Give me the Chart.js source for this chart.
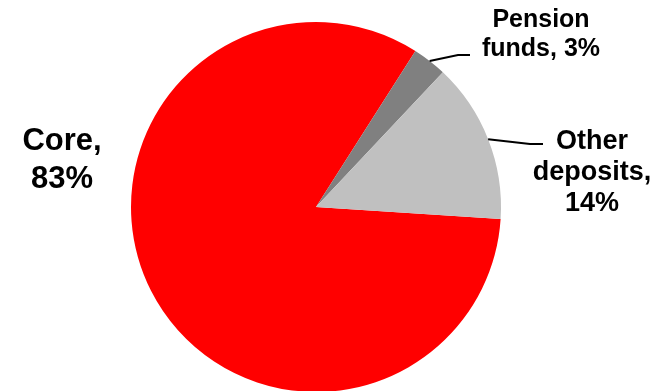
<!DOCTYPE html>
<html>
<head>
    <meta charset="UTF-8">
    <title>Deposits</title>
    <script src="https://cdn.jsdelivr.net/npm/chart.js@4/dist/chart.umd.min.js"></script>
</head>
<style>
    html, body { margin: 0; padding: 0; background: #fff; overflow: hidden; }
    canvas { display: block; }
</style>
<body>
    <canvas id="chart" width="663" height="400"></canvas>

    <script>
        // slice data
        var labels = ['Core', 'Pension funds', 'Other deposits'];
        var shares = [83, 3, 14];
        var colors = ['#ff0000', '#808080', '#c0c0c0'];

        // label text per slice (lines), font size, where the text sits and leader elbow
        var labelLines = [['Core,', '83%'], ['Pension', 'funds, 3%'], ['Other', 'deposits,', '14%']];
        var labelSize = [31, 25, 27];
        var labelPos = [[62, 150], [541, 27], [592, 149]];
        var lineGap = [38, 29, 31];
        var leader = [null, [[458, 55], [470, 55]], [[530, 144], [543, 144]]];

        var sliceLabels = {
            id: 'sliceLabels',
            afterDatasetsDraw: function (chart) {
                var ctx = chart.ctx;
                var arcs = chart.getDatasetMeta(0).data;
                ctx.save();
                arcs.forEach(function (arc, i) {
                    var mid = (arc.startAngle + arc.endAngle) / 2;
                    if (leader[i]) {
                        ctx.beginPath();
                        ctx.moveTo(arc.x + Math.cos(mid) * arc.outerRadius, arc.y + Math.sin(mid) * arc.outerRadius);
                        leader[i].forEach(function (p) { ctx.lineTo(p[0], p[1]); });
                        ctx.strokeStyle = '#000';
                        ctx.lineWidth = 2;
                        ctx.stroke();
                    }
                    ctx.fillStyle = '#000';
                    ctx.font = 'bold ' + labelSize[i] + 'px "Liberation Sans", Arial, sans-serif';
                    ctx.textAlign = 'center';
                    ctx.textBaseline = 'alphabetic';
                    labelLines[i].forEach(function (t, k) {
                        ctx.fillText(t, labelPos[i][0], labelPos[i][1] + k * lineGap[i]);
                    });
                });
                ctx.restore();
            }
        };

        new Chart(document.getElementById('chart'), {
            type: 'pie',
            data: {
                labels: labels,
                datasets: [{
                    data: shares,
                    backgroundColor: colors,
                    borderWidth: 0,
                    hoverOffset: 0
                }]
            },
            options: {
                responsive: false,
                animation: false,
                rotation: 93.7,
                layout: { padding: { left: 131, right: 162, top: 22, bottom: 8 } },
                plugins: { legend: { display: false }, tooltip: { enabled: false } }
            },
            plugins: [sliceLabels]
        });
    </script>
</body>
</html>
